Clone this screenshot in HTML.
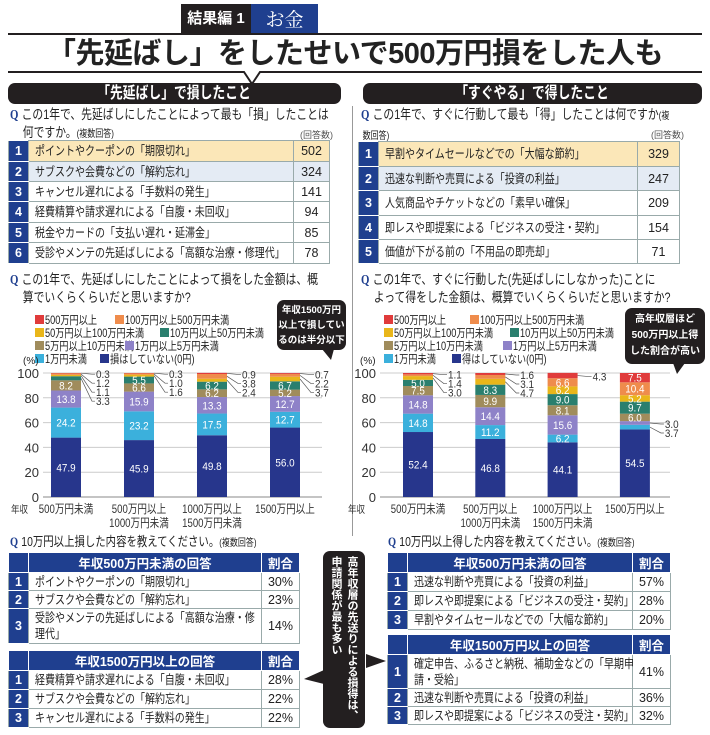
<!DOCTYPE html>
<html><head><meta charset="utf-8">
<style>
*{margin:0;padding:0;box-sizing:border-box}
body{width:710px;height:735px;background:#fff;position:relative;overflow:hidden;font-family:"Liberation Sans","Noto Sans CJK JP",sans-serif;color:#222}
.abs{position:absolute}
.cz{display:inline-block;transform:scaleX(.8);transform-origin:left center;white-space:nowrap}
.sec{position:absolute;top:83px;height:21px;background:#231f20;border-radius:7px;color:#fff;font-weight:bold;font-size:16px;text-align:center;line-height:21px}
.q{position:absolute;font-size:13.5px;line-height:18px;color:#222;white-space:nowrap}
.q b{color:#1f3f8f;font-family:"Liberation Serif","Noto Serif CJK SC",serif;margin-right:4px}
.q small{font-size:10px}
table{position:absolute;border-collapse:collapse;font-size:12.5px;table-layout:fixed}
td{border:1px solid #9aa;padding:0 6px;vertical-align:middle;white-space:nowrap;overflow:visible;line-height:16px}
td.n{background:#1f3f8f;color:#fff;font-weight:bold;text-align:center;padding:0;border-color:#fff #9aa}
td.v{text-align:center;padding:0}
th{background:#1f3f8f;color:#fff;font-weight:bold;font-size:12.5px;border:1px solid #fff;height:19px;white-space:nowrap}
.r1 td:not(.n){background:#fbe7b8}
.r2 td:not(.n){background:#e4ebf4}
.bubble{position:absolute;background:#231f20;color:#fff;font-weight:bold;border-radius:7px;text-align:center;white-space:nowrap}
</style></head><body>
<div class="abs" style="left:181px;top:4px;width:70px;height:29px;background:#231f20;color:#fff;font-weight:bold;font-size:15px;line-height:29px;text-align:center">結果編 1</div>
<div class="abs" style="left:251px;top:4px;width:67px;height:29px;background:#1f3f8f;color:#fff;font-size:19px;line-height:29px;text-align:center;font-family:'Noto Serif CJK SC',serif">お金</div>
<div class="abs" style="left:8px;top:33px;width:694px;height:2px;background:#231f20"></div>
<div class="abs" style="left:0;top:36px;width:710px;text-align:center;font-size:29px;font-weight:bold;line-height:36px;letter-spacing:-0.5px">「先延ばし」をしたせいで500万円損をした人も</div>
<svg class="abs" style="left:0;top:70px" width="710" height="20"><path d="M8 2H244L252 14L260 2H702" fill="none" stroke="#231f20" stroke-width="2"/></svg>
<div class="abs" style="left:352px;top:106px;width:1px;height:430px;background:#999"></div>
<div class="sec" style="left:8px;width:333px"><span class="cz" style="transform-origin:center">「先延ばし」で損したこと</span></div>
<div class="sec" style="left:363px;width:339px"><span class="cz" style="transform-origin:center">「すぐやる」で得したこと</span></div>

<div class="q" style="left:10px;top:106px;width:325px">
<span class="cz"><b>Q</b>この1年で、先延ばしにしたことによって最も「損」したことは</span><br><span class="cz" style="padding-left:16px">何ですか。<small>(複数回答)</small></span><span style="position:absolute;right:2px;top:20px;font-size:9px;color:#555">(回答数)</span></div>
<table style="left:8px;top:140px;width:322px">
<col style="width:20px"><col><col style="width:36px">
<tr class="r1" style="height:21px"><td class="n">1</td><td><span class="cz">ポイントやクーポンの「期限切れ」</span></td><td class="v">502</td></tr>
<tr class="r2" style="height:20px"><td class="n">2</td><td><span class="cz">サブスクや会費などの「解約忘れ」</span></td><td class="v">324</td></tr>
<tr style="height:20px"><td class="n">3</td><td><span class="cz">キャンセル遅れによる「手数料の発生」</span></td><td class="v">141</td></tr>
<tr style="height:21px"><td class="n">4</td><td><span class="cz">経費精算や請求遅れによる「自腹・未回収」</span></td><td class="v">94</td></tr>
<tr style="height:20px"><td class="n">5</td><td><span class="cz">税金やカードの「支払い遅れ・延滞金」</span></td><td class="v">85</td></tr>
<tr style="height:21px"><td class="n">6</td><td><span class="cz">受診やメンテの先延ばしによる「高額な治療・修理代」</span></td><td class="v">78</td></tr>
</table>

<div class="q" style="left:361px;top:106px;width:325px">
<span class="cz"><b>Q</b>この1年で、すぐに行動して最も「得」したことは何ですか<small>(複</small></span><br><span class="cz" style="font-size:10px;padding-left:2px">数回答)</span><span style="position:absolute;right:2px;top:20px;font-size:9px;color:#555">(回答数)</span></div>
<table style="left:358px;top:141px;width:322px">
<col style="width:20px"><col><col style="width:42px">
<tr class="r1" style="height:25px"><td class="n">1</td><td><span class="cz">早割やタイムセールなどでの「大幅な節約」</span></td><td class="v">329</td></tr>
<tr class="r2" style="height:24px"><td class="n">2</td><td><span class="cz">迅速な判断や売買による「投資の利益」</span></td><td class="v">247</td></tr>
<tr style="height:25px"><td class="n">3</td><td><span class="cz">人気商品やチケットなどの「素早い確保」</span></td><td class="v">209</td></tr>
<tr style="height:24px"><td class="n">4</td><td><span class="cz">即レスや即提案による「ビジネスの受注・契約」</span></td><td class="v">154</td></tr>
<tr style="height:24px"><td class="n">5</td><td><span class="cz">価値が下がる前の「不用品の即売却」</span></td><td class="v">71</td></tr>
</table>

<div class="q" style="left:10px;top:271px;width:330px"><span class="cz"><b>Q</b>この1年で、先延ばしにしたことによって損をした金額は、概</span><br><span class="cz" style="padding-left:16px">算でいくらくらいだと思いますか?</span></div>
<div class="q" style="left:361px;top:271px;width:340px"><span class="cz"><b>Q</b>この1年で、すぐに行動した(先延ばしにしなかった)ことに</span><br><span class="cz" style="padding-left:16px">よって得をした金額は、概算でいくらくらいだと思いますか?</span></div>

<svg class="abs" id="charts" style="left:0;top:300px" width="710" height="235"></svg>

<div class="bubble" style="left:277px;top:300px;width:69px;height:50px;font-size:9.5px;line-height:15px;padding-top:3px">年収1500万円<br>以上で損してい<br>るのは半分以下</div>
<svg class="abs" style="left:322px;top:349px" width="14" height="12"><path d="M0 0H12L9 11Z" fill="#231f20"/></svg>
<div class="bubble" style="left:625px;top:308px;width:80px;height:56px;font-size:10px;line-height:16px;padding-top:4px">高年収層ほど<br>500万円以上得<br>した割合が高い</div>
<svg class="abs" style="left:673px;top:363px" width="14" height="12"><path d="M0 0H12L4 11Z" fill="#231f20"/></svg>

<div class="q" style="left:10px;top:533px;font-size:13px"><span class="cz"><b>Q</b>10万円以上損した内容を教えてください。<small>(複数回答)</small></span></div>
<table style="left:8px;top:552px;width:292px">
<col style="width:20px"><col><col style="width:38px">
<tr><th></th><th>年収500万円未満の回答</th><th>割合</th></tr>
<tr style="height:18px"><td class="n">1</td><td><span class="cz">ポイントやクーポンの「期限切れ」</span></td><td class="v">30%</td></tr>
<tr style="height:18px"><td class="n">2</td><td><span class="cz">サブスクや会費などの「解約忘れ」</span></td><td class="v">23%</td></tr>
<tr style="height:35px"><td class="n">3</td><td><span class="cz">受診やメンテの先延ばしによる「高額な治療・修</span><br><span class="cz">理代」</span></td><td class="v">14%</td></tr>
</table>
<table style="left:8px;top:650px;width:292px">
<col style="width:20px"><col><col style="width:38px">
<tr><th></th><th>年収1500万円以上の回答</th><th>割合</th></tr>
<tr style="height:19px"><td class="n">1</td><td><span class="cz">経費精算や請求遅れによる「自腹・未回収」</span></td><td class="v">28%</td></tr>
<tr style="height:19px"><td class="n">2</td><td><span class="cz">サブスクや会費などの「解約忘れ」</span></td><td class="v">22%</td></tr>
<tr style="height:19px"><td class="n">3</td><td><span class="cz">キャンセル遅れによる「手数料の発生」</span></td><td class="v">22%</td></tr>
</table>

<div class="bubble" style="left:323px;top:551px;width:42px;height:177px;writing-mode:vertical-rl;font-size:11px;line-height:16px;padding:5px 5px;text-align:left">高年収層の先送りによる損得は、<br>申請関係が最も多い</div>
<svg class="abs" style="left:303px;top:650px" width="85" height="40"><path d="M21 20L1 29L21 34Z M63 4L83 11L63 18Z" fill="#231f20"/></svg>

<div class="q" style="left:388px;top:533px;font-size:13px"><span class="cz"><b>Q</b>10万円以上得した内容を教えてください。<small>(複数回答)</small></span></div>
<table style="left:387px;top:552px;width:284px">
<col style="width:20px"><col><col style="width:38px">
<tr><th></th><th>年収500万円未満の回答</th><th>割合</th></tr>
<tr style="height:19px"><td class="n">1</td><td><span class="cz">迅速な判断や売買による「投資の利益」</span></td><td class="v">57%</td></tr>
<tr style="height:19px"><td class="n">2</td><td><span class="cz">即レスや即提案による「ビジネスの受注・契約」</span></td><td class="v">28%</td></tr>
<tr style="height:19px"><td class="n">3</td><td><span class="cz">早割やタイムセールなどでの「大幅な節約」</span></td><td class="v">20%</td></tr>
</table>
<table style="left:387px;top:634px;width:284px">
<col style="width:20px"><col><col style="width:38px">
<tr><th></th><th>年収1500万円以上の回答</th><th>割合</th></tr>
<tr style="height:34px"><td class="n">1</td><td><span class="cz">確定申告、ふるさと納税、補助金などの「早期申</span><br><span class="cz">請・受給」</span></td><td class="v">41%</td></tr>
<tr style="height:18px"><td class="n">2</td><td><span class="cz">迅速な判断や売買による「投資の利益」</span></td><td class="v">36%</td></tr>
<tr style="height:18px"><td class="n">3</td><td><span class="cz">即レスや即提案による「ビジネスの受注・契約」</span></td><td class="v">32%</td></tr>
</table>

<script>
// categories (income brackets)
const categories = [["500万円未満"],["500万円以上","1000万円未満"],["1000万円以上","1500万円未満"],["1500万円以上"]];
// series order bottom→top
const seriesNames = ["0円","1万円未満","1万円以上5万円未満","5万円以上10万円未満","10万円以上50万円未満","50万円以上100万円未満","100万円以上500万円未満","500万円以上"];
const lossSeries = [
  [47.9,45.9,49.8,56.0],
  [24.2,23.2,17.5,12.7],
  [13.8,15.9,13.3,12.7],
  [8.2,6.6,6.2,5.2],
  [3.3,5.5,6.2,6.7],
  [1.1,1.6,2.4,3.7],
  [1.2,1.0,3.8,2.2],
  [0.3,0.3,0.9,0.7]
];
const gainSeries = [
  [52.4,46.8,44.1,54.5],
  [14.8,11.2,6.2,3.7],
  [14.8,14.4,15.6,3.0],
  [7.5,9.9,8.1,6.0],
  [5.0,8.3,9.0,9.7],
  [3.0,4.7,6.2,5.2],
  [1.4,3.1,6.6,10.4],
  [1.1,1.6,4.3,7.5]
];
const yTicks = [0,20,40,60,80,100];
const lossLegend = ["500万円以上","100万円以上500万円未満","50万円以上100万円未満","10万円以上50万円未満","5万円以上10万円未満","1万円以上5万円未満","1万円未満","損はしていない(0円)"];
const gainLegend = ["500万円以上","100万円以上500万円未満","50万円以上100万円未満","10万円以上50万円未満","5万円以上10万円未満","1万円以上5万円未満","1万円未満","得はしていない(0円)"];

const colors=["#27368c","#3bb0dc","#8e82c8","#a08c5c","#2a7f6e","#e9b61a","#ef8c4c","#e03b3b"];
const svg=document.getElementById('charts');
const NS="http://www.w3.org/2000/svg";
function mk(tag,attrs,parent){const e=document.createElementNS(NS,tag);for(const k in attrs)e.setAttribute(k,attrs[k]);(parent||svg).appendChild(e);return e;}
function txt(x,y,s,size,anchor,fill,parent,sx){
  const t=mk('text',{x:0,y:0,'font-size':size,'text-anchor':anchor||'start',fill:fill||'#222',transform:`translate(${x},${y}) scale(${sx||1},1)`},parent);
  t.textContent=s;return t;}

function drawChart(cfg){
  const g=mk('g',{});
  
  
  const yTop=73,yBot=197;
  const yS=v=>yBot-(v/100)*(yBot-yTop);
  const xC=i=>cfg.x0+cfg.step*i;
  const order=[7,6,5,4,3,2,1,0];
  cfg.legendPos.forEach((p,k)=>{
    const si=order[k];
    const r=mk('rect',{x:p[0],y:p[1]-9,width:9,height:9,fill:colors[si]},g);
    
    
    const t=txt(p[0]+10,p[1],cfg.legend[k],11.5,'start','#222',g,0.8);
    
    
  });
  txt(cfg.axisX-20,64,"(%)",10,'start','#222',g);
  yTicks.forEach(v=>{
    mk('line',{x1:cfg.axisX,x2:cfg.axisEnd,y1:yS(v),y2:yS(v),stroke:v===0?'#888':'#ccc','stroke-width':1},g);
    const t=txt(cfg.axisX-4,yS(v)+5,String(v),13,'end','#333',g);
    
    
  });
  txt(cfg.axisX-32,213,"年収",10,'start','#333',g,0.85);
  const bw=30;
  categories.forEach((cat,i)=>{
    cat.forEach((line,j)=>{
      const t=txt(xC(i),213+j*14,line,12,'middle','#333',g,0.8);
      
      
    });
    let cum=0;const outs=[];
    cfg.series.forEach((ser,si)=>{
      const v=ser[i];const y1=yS(cum+v),y0=yS(cum);
      const r=mk('rect',{x:xC(i)-bw/2,y:y1,width:bw,height:y0-y1,fill:colors[si]},g);
      
      
      if(v>=5){
        const t=txt(xC(i),(y0+y1)/2+4,v.toFixed(1),11,'middle','#fff',g,0.9);
        
        
      } else outs.push({v:v,ym:(y0+y1)/2});
      cum+=v;
    });
    outs.reverse();
    let prev=-1e9;
    outs.forEach(o=>{
      let ly=Math.max(o.ym+4,prev+9); if(ly<yTop+3) ly=yTop+3; prev=ly;
      const lx=xC(i)+bw/2+14;
      mk('polyline',{points:`${xC(i)+bw/2},${o.ym} ${lx-3},${ly-3} ${lx},${ly-3}`,fill:'none',stroke:'#555','stroke-width':0.7},g);
      const t=txt(lx+1,ly+1,o.v.toFixed(1),11,'start','#333',g,0.9);
      
      
    });
  });
}
drawChart({name:'loss-amount-chart',series:lossSeries,legend:lossLegend,x0:66,step:73,axisX:43,axisEnd:322,
  legendPos:[[35,24],[115,24],[35,37],[160,37],[35,50],[125,50],[35,63],[100,63]]});
drawChart({name:'gain-amount-chart',series:gainSeries,legend:gainLegend,x0:418,step:72.3,axisX:380,axisEnd:670,
  legendPos:[[384,24],[470,24],[384,37],[510,37],[384,50],[503,50],[384,63],[452,63]]});
</script>
</body></html>
